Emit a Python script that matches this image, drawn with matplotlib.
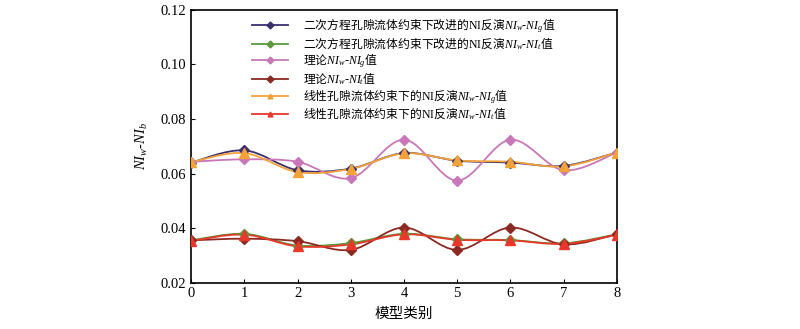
import numpy as np
import matplotlib
matplotlib.use('Agg')
import matplotlib.pyplot as plt
from matplotlib.path import Path
from matplotlib.patches import PathPatch
from matplotlib.lines import Line2D
from matplotlib.font_manager import FontProperties

plt.rcParams['font.family'] = ['Liberation Serif', 'Noto Sans CJK SC']
plt.rcParams['mathtext.fontset'] = 'custom'
plt.rcParams['mathtext.rm'] = 'Liberation Serif'
plt.rcParams['mathtext.it'] = 'Liberation Serif:italic'

# Data
model_type = [0, 1, 2, 3, 4, 5, 6, 7, 8]
quad_g = [0.064, 0.0685, 0.0612, 0.0618, 0.0675, 0.0647, 0.0640, 0.0628, 0.0677]
quad_t = [0.0355, 0.0379, 0.0336, 0.0345, 0.0379, 0.0359, 0.0356, 0.0344, 0.0377]
theory_g = [0.0643, 0.0652, 0.0643, 0.0583, 0.0724, 0.0574, 0.0724, 0.0612, 0.0677]
theory_t = [0.0355, 0.0361, 0.0352, 0.0320, 0.0402, 0.0320, 0.0402, 0.0340, 0.0377]
linear_g = [0.0642, 0.0675, 0.0605, 0.0617, 0.0674, 0.0648, 0.0643, 0.0626, 0.0677]
linear_t = [0.0353, 0.0376, 0.0333, 0.0340, 0.0377, 0.0357, 0.0355, 0.0342, 0.0375]

labels = [
    r'二次方程孔隙流体约束下改进的$\mathrm{NI}$反演$NI_w$-$NI_g$值',
    r'二次方程孔隙流体约束下改进的$\mathrm{NI}$反演$NI_w$-$NI_t$值',
    r'理论$NI_w$-$NI_g$值',
    r'理论$NI_w$-$NI_t$值',
    r'线性孔隙流体约束下的$\mathrm{NI}$反演$NI_w$-$NI_g$值',
    r'线性孔隙流体约束下的$\mathrm{NI}$反演$NI_w$-$NI_t$值',
]
colors = ['#3b2f6e', '#5a9a3c', '#c878b8', '#8b2a22', '#f3a23a', '#e8382c']
markers = ['D', 'D', 'D', 'D', '^', '^']
series = [quad_g, quad_t, theory_g, theory_t, linear_g, linear_t]


def smooth_path(x, y):
    """Catmull-Rom style bezier path through the points"""
    x = np.asarray(x, float)
    y = np.asarray(y, float)
    verts = [(x[0], y[0])]
    codes = [Path.MOVETO]
    n = len(x)
    for i in range(n - 1):
        p0 = i - 1 if i > 0 else i
        p3 = i + 2 if i + 2 < n else i + 1
        dx1 = (x[i + 1] - x[p0]) / 6.0
        dy1 = (y[i + 1] - y[p0]) / 6.0
        dx2 = (x[p3] - x[i]) / 6.0
        dy2 = (y[p3] - y[i]) / 6.0
        verts += [(x[i] + dx1, y[i] + dy1),
                  (x[i + 1] - dx2, y[i + 1] - dy2),
                  (x[i + 1], y[i + 1])]
        codes += [Path.CURVE4] * 3
    return Path(verts, codes)


fig = plt.figure(figsize=(8, 3.29), dpi=100)
ax = fig.add_axes([0.239, 0.141, 0.532, 0.829])

order = [2, 3, 0, 1, 4, 5]
for i in order:
    patch = PathPatch(smooth_path(model_type, series[i]), facecolor='none',
                      edgecolor=colors[i], lw=1.3, zorder=2 + i * 0.1)
    ax.add_patch(patch)
    ms = 5.5 if markers[i] == 'D' else 7
    ax.plot(model_type, series[i], ls='none', marker=markers[i], ms=ms,
            color=colors[i], mec=colors[i], zorder=3 + i * 0.1)

handles = [Line2D([0], [0], color=c, lw=1.3, marker=m, ms=3.5)
           for c, m in zip(colors, markers)]
leg_font = FontProperties(family='Noto Sans CJK SC', size=8.5)
ax.legend(handles, labels, loc='upper center', bbox_to_anchor=(0.5, 1.0),
          frameon=False, prop=leg_font, handlelength=3.0, labelspacing=0.0,
          handletextpad=1.3, borderaxespad=0.15)

ax.set_xlim(0, 8)
ax.set_ylim(0.02, 0.12)
ax.set_xticks(model_type)
ax.set_yticks([0.02, 0.04, 0.06, 0.08, 0.10, 0.12])
ax.set_yticklabels(['0.02', '0.04', '0.06', '0.08', '0.10', '0.12'])
ax.tick_params(direction='in', length=3, labelsize=10.5, top=False, right=False)
for s in ax.spines.values():
    s.set_linewidth(1.2)
ax.set_xlabel('模型类别', fontsize=10.5, labelpad=5)
ax.set_ylabel('$NI_w$-$NI_b$', fontsize=10.5, labelpad=8)

fig.savefig('out.png', dpi=100)
